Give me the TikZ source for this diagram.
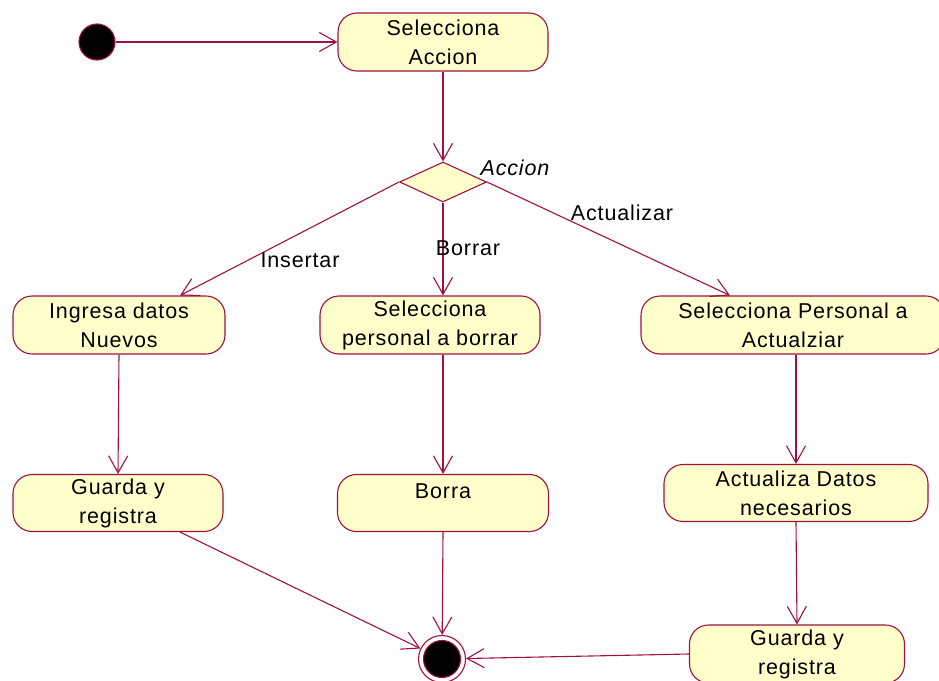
\documentclass[tikz,border=0pt]{standalone}
\usepackage{fontspec}
\setmainfont{Liberation Sans}
\usetikzlibrary{arrows.meta,calc,shapes.geometric}
\definecolor{rosered}{RGB}{160,16,64}
\definecolor{roseyel}{RGB}{255,255,204}
\newcommand\rosefont{\fontsize{21.5}{29}\selectfont\addfontfeature{LetterSpace=4}}
\begin{document}
\begin{tikzpicture}[x=1pt,y=-1pt,
  act/.style={draw=rosered, line width=1.1pt, fill=roseyel, rounded corners=19pt,
    minimum height=58pt, inner sep=0pt, align=center,
    font=\rosefont},
  flow/.style={draw=rosered, line width=1.1pt,
    -{Straight Barb[length=17pt,width=19pt,line width=1.1pt]}},
  lbl/.style={font=\rosefont, inner sep=0pt}]
\useasboundingbox (0,0) rectangle (939,680);
% start
\node[circle, draw=rosered, line width=1.1pt, fill=black, minimum size=36pt, inner sep=0pt] (start) at (97,42) {};
% activities
\node[act, minimum width=210pt] (sel) at (443,42) {Selecciona\\Accion};
\node[diamond, draw=rosered, line width=1.1pt, fill=roseyel, minimum width=87pt, minimum height=40pt, inner sep=0pt, aspect=2.2] (dia) at (443,182) {};
\node[lbl, font=\rosefont\itshape] (acc) at (515,168) {Accion};
\node[act, minimum width=212pt] (ing) at (119,325) {Ingresa datos\\Nuevos};
\node[act, minimum width=220pt] (sb) at (430,325) {Selecciona\\personal a borrar};
\node[act, minimum width=304pt] (sa) at (793,325) {Selecciona Personal a\\Actualziar};
\node[act, minimum width=210pt, minimum height=57pt] (gl) at (118,503) {Guarda y\\registra};
\node[act, minimum width=211pt, minimum height=57pt] (bo) at (443,503) {Borra\\[-10pt]\phantom{Bg}};
\node[act, minimum width=264pt, minimum height=57pt] (actz) at (796,493) {Actualiza Datos\\necesarios};
\node[act, minimum width=215pt] (gr) at (797,654) {Guarda y\\registra};
% final
\node[circle, draw=rosered, line width=1.1pt, fill=white, minimum size=47pt, inner sep=0pt] (fin) at (442,659) {};
\fill[black, draw=rosered, line width=1.1pt] (fin.center) circle (18.5);
% connectors
\draw[flow] (start) -- (sel);
\draw[flow] (sel) -- (dia);
\draw[flow] (dia.west) -- ($(ing.north)+(61,0)$);
\draw[flow] (dia.south) -- (sb.north -| dia);
\draw[flow] (dia.east) -- ($(sa.north)+(-63,0)$);
\draw[flow] (ing.south) -- (gl.north);
\draw[flow] (sb.south -| bo) -- (bo.north);
\draw[flow] (sa.south -| actz) -- (actz.north);
\draw[flow] (actz.south) -- (gr.north);
\draw[flow] ($(gl.south)+(62,0)$) -- (fin);
\draw[flow] (bo.south) -- (fin);
\draw[flow] (gr.west) -- (fin);
% labels
\node[lbl] (lins) at (300,260) {Insertar};
\node[lbl] (lbor) at (468,248) {Borrar};
\node[lbl] (lact) at (622,213) {Actualizar};
\end{tikzpicture}
\end{document}
